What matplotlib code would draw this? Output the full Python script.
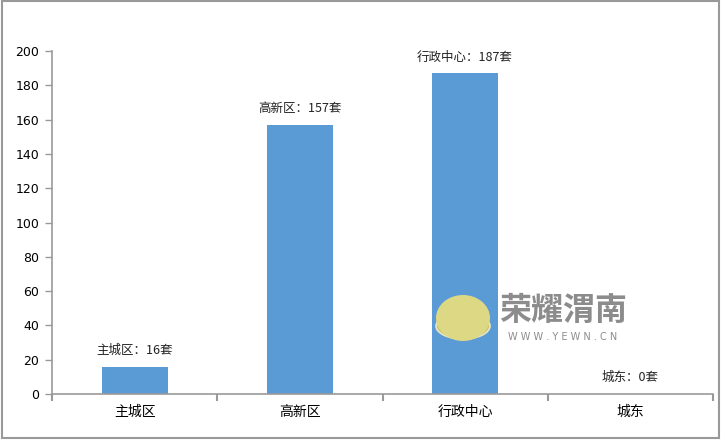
import matplotlib
matplotlib.use("Agg")
import matplotlib.pyplot as plt
from matplotlib.patches import Ellipse, Rectangle, Wedge
import numpy as np

plt.rcParams['font.family'] = ['Noto Sans CJK SC', 'DejaVu Sans']

categories = ['主城区', '高新区', '行政中心', '城东']
values = [16, 157, 187, 0]
bar_labels = ['主城区：16套', '高新区：157套', '行政中心：187套', '城东：0套']
y_ticks = [0, 20, 40, 60, 80, 100, 120, 140, 160, 180, 200]

W, H = 721, 441
fig = plt.figure(figsize=(W / 100, H / 100), dpi=100)
# axes box in pixels: x 52..713, y 51..394
ax = fig.add_axes([52 / W, 1 - 394 / H, (713 - 52) / W, (394 - 51) / H])

x = np.arange(len(categories))
ax.bar(x, values, width=0.4, color='#5B9BD5', zorder=2)

for xi, v, lab in zip(x, values, bar_labels):
    ax.annotate(lab, (xi, v), xytext=(0, 7), textcoords='offset points',
                ha='center', va='bottom', fontsize=9, color='#222222')

ax.set_xlim(-0.5, len(categories) - 0.5)
ax.set_ylim(0, 200)
ax.set_yticks(y_ticks)
ax.set_yticklabels([str(t) for t in y_ticks], fontsize=9, family='DejaVu Sans')
ax.set_xticks(x)
ax.set_xticklabels(categories, fontsize=10)
ax.tick_params(axis='x', length=0, pad=8)
ax.tick_params(axis='y', length=5, width=1, color='#999999', pad=4)
# boundary ticks on x axis
ax.set_xticks(np.arange(len(categories) + 1) - 0.5, minor=True)
ax.tick_params(axis='x', which='minor', length=5, width=1.5, color='#999999', direction='out')

for s in ['top', 'right']:
    ax.spines[s].set_visible(False)
for s in ['left', 'bottom']:
    ax.spines[s].set_color('#999999')
    ax.spines[s].set_linewidth(1.2)

# outer frame
fig.patches.append(Rectangle((2 / W, 1 - 438 / H), (719 - 2) / W, (438 - 1) / H,
                             transform=fig.transFigure, fill=False,
                             edgecolor='#999999', linewidth=1.5))

# watermark logo (dome) and text
fig.patches.append(Ellipse((463 / W, 1 - 326 / H), 54 / W, 26 / H,
                           transform=fig.transFigure, facecolor='#cfc46a',
                           edgecolor='#e6e6c8', linewidth=1.2, zorder=5))
fig.patches.append(Ellipse((463 / W, 1 - 318 / H), 54 / W, 46 / H,
                           transform=fig.transFigure, facecolor='#dcd884',
                           edgecolor='none', zorder=5, clip_on=False))
fig.text(563 / W, 1 - 311 / H, '荣耀渭南', fontsize=23, color='#8c8c8c',
         ha='center', va='center', fontweight='bold')
fig.text(563 / W, 1 - 337 / H, 'W W W . Y E W N . C N', fontsize=7, color='#8c8c8c',
         ha='center', va='center', family='DejaVu Sans')

fig.savefig('out.png', dpi=100)
